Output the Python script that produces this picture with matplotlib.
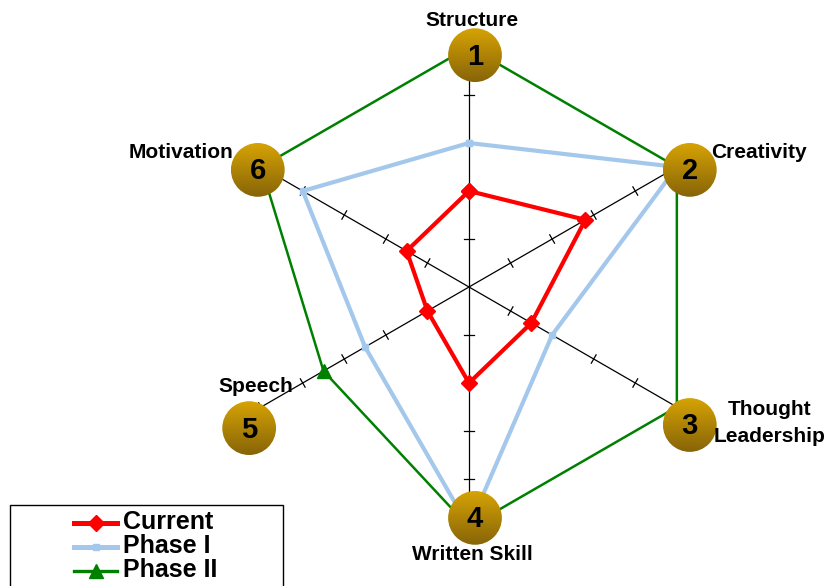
import matplotlib
matplotlib.use('Agg')
import matplotlib.pyplot as plt
from matplotlib.patches import Circle, Rectangle
from matplotlib.lines import Line2D
from matplotlib.colors import LinearSegmentedColormap
import numpy as np

plt.rcParams['font.family'] = ['Liberation Sans', 'DejaVu Sans']
plt.rcParams['font.weight'] = 'bold'

# Data
categories = ['Structure', 'Creativity', 'Thought\nLeadership',
              'Written Skill', 'Speech', 'Motivation']
current = [2, 2.8, 1.5, 2, 1, 1.5]
phase_1 = [3, 5, 2, 5, 2.5, 4]
phase_2 = [5, 5, 5, 5, 3.5, 5]
series_names = ['Current', 'Phase I', 'Phase II']
r_max = 5

# angles: first spoke at top, going clockwise
n = len(categories)
theta = np.pi / 2 - np.arange(n) * 2 * np.pi / n
cs, sn = np.cos(theta), np.sin(theta)

def closed(vals):
    v = np.array(vals + vals[:1], dtype=float)
    t = np.append(theta, theta[0])
    return v * np.cos(t), v * np.sin(t)

px = 48.0  # pixels per unit
W, H = 827, 586
fig = plt.figure(figsize=(W / 100, H / 100), dpi=100)
ax = fig.add_axes([0, 0, 1, 1])
xlim = (-469 / px, (W - 469) / px)
ylim = (-(H - 287) / px, 287 / px)

# spokes and tick marks
for i in range(n):
    ax.plot([0, r_max * cs[i]], [0, r_max * sn[i]], color='black', lw=0.9, zorder=1)
    for k in range(1, r_max + 1):
        x0, y0 = k * cs[i], k * sn[i]
        dx, dy = -sn[i] * 0.1, cs[i] * 0.1
        ax.plot([x0 - dx, x0 + dx], [y0 - dy, y0 + dy], color='black', lw=0.9, zorder=1)

styles = {
    'Current': dict(color='#FF0000', lw=3, marker='D', ms=8, zorder=4),
    'Phase I': dict(color='#A4C8EC', lw=3, marker='s', ms=5, zorder=3),
    'Phase II': dict(color='#008000', lw=1.8, marker='^', ms=10, zorder=2),
}
for name, vals in zip(series_names, [current, phase_1, phase_2]):
    x, y = closed(vals)
    ax.plot(x, y, **styles[name])

# numbered badges
badge_pos = [(0.125, 4.83), (4.60, 2.44), (4.60, -2.875),
             (0.125, -4.81), (-4.58, -2.94), (-4.40, 2.44)]
badge_r = 0.56
grad = np.linspace(0, 1, 100).reshape(-1, 1)
gold = LinearSegmentedColormap.from_list('gold', ['#D6A304', '#876408'])
for i, (bx, by) in enumerate(badge_pos):
    circ = Circle((bx, by), badge_r, transform=ax.transData, facecolor='none',
                  edgecolor='none')
    ax.add_patch(circ)
    im = ax.imshow(grad, cmap=gold, aspect='auto', origin='upper',
                   extent=[bx - badge_r, bx + badge_r, by - badge_r, by + badge_r],
                   zorder=10)
    im.set_clip_path(circ)
    ax.text(bx, by - 0.03, str(i + 1), ha='center', va='center', fontsize=21,
            fontweight='bold', color='black', zorder=11)

# category labels
lab_pos = [(472, 20, 'center'), (711, 153, 'left'), (770, 423, 'center'),
           (472, 555, 'center'), (256, 387, 'center'), (233, 153, 'right')]
for name, (lx, ly, ha) in zip(categories, lab_pos):
    ax.text((lx - 469) / px, (287 - ly) / px, name, ha=ha, va='center',
            fontsize=15, fontweight='bold', linespacing=1.5, zorder=12)

ax.set_xlim(*xlim)
ax.set_ylim(*ylim)
ax.axis('off')

# legend box (runs off the bottom edge like the original)
fig.add_artist(Rectangle((10 / W, 1 - 620 / H), 273 / W, 115 / H,
                         transform=fig.transFigure, facecolor='white',
                         edgecolor='black', lw=1.0, zorder=20))
for j, name in enumerate(series_names):
    yy = 1 - (523 + 24 * j) / H
    st = styles[name]
    fig.add_artist(Line2D([74 / W, 117 / W], [yy, yy], transform=fig.transFigure,
                          color=st['color'], lw=st['lw'] + 0.6, zorder=21))
    fig.add_artist(Line2D([96 / W], [yy], transform=fig.transFigure,
                          color=st['color'], marker=st['marker'], ms=st['ms'],
                          zorder=22))
    fig.text(123 / W, yy + 1 / H, name, ha='left', va='center', fontsize=18,
             fontweight='bold', zorder=23)

fig.savefig('out.png', dpi=100)
